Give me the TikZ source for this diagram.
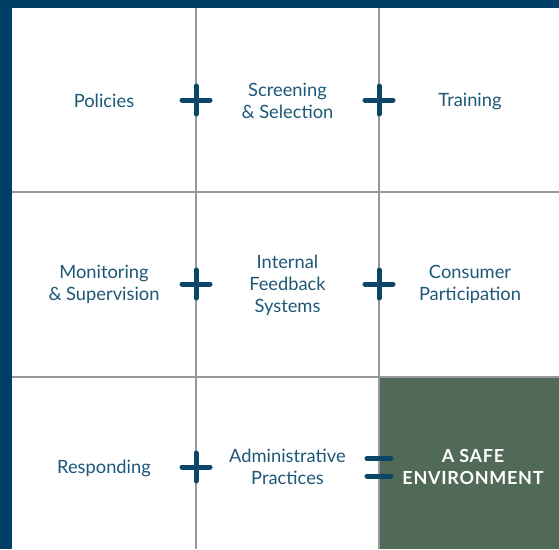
\documentclass[tikz,border=0pt]{standalone}
\usepackage{fontspec}
\setmainfont{Lato}
\definecolor{barblue}{HTML}{023F66}
\definecolor{plusblue}{HTML}{0B4768}
\definecolor{txtblue}{HTML}{1D5878}
\definecolor{gridgray}{HTML}{96999C}
\definecolor{safegreen}{HTML}{516957}
\tikzset{
  lbl/.style={align=center, text=txtblue, font=\fontsize{18.3}{22}\selectfont, inner sep=0pt},
  safelbl/.style={align=center, text=white, font=\bfseries\addfontfeatures{LetterSpace=4}\fontsize{18}{22}\selectfont, inner sep=0pt},
  gridline/.style={draw=gridgray, line width=2pt},
  plusbar/.style={draw=plusblue, line width=5pt, line cap=round},
  eqbar/.style={draw=plusblue, line width=5pt, line cap=round},
}
\begin{document}
\begin{tikzpicture}[x=1pt,y=-1pt]
\useasboundingbox (0,0) rectangle (559,549);
\fill[white] (0,0) rectangle (559,549);
% green cell
\fill[safegreen] (379,376) rectangle (559,549);
% grid
\draw[gridline] (12,191.5) -- (559,191.5);
\draw[gridline] (12,376.5) -- (559,376.5);
\draw[gridline] (196,8) -- (196,549);
\draw[gridline] (379,8) -- (379,549);
% border bars
\fill[barblue] (0,0) rectangle (559,8);
\fill[barblue] (0,0) rectangle (12,549);
% labels
\node[lbl] (policies) at (104,101) {Policies};
\node[lbl] (screening) at (287.5,100.5) {Screening\\\& Selection};
\node[lbl] (training) at (470,101) {Training};
\node[lbl] (monitoring) at (104,284.5) {Monitoring\\\& Supervision};
\node[lbl] (internal) at (287.5,285) {Internal\\Feedback\\Systems};
\node[lbl] (consumer) at (470,284.5) {Consumer\\Participation};
\node[lbl] (responding) at (104,468.5) {Responding};
\node[lbl] (admin) at (287.5,467) {Administrative\\Practices};
\node[safelbl] (safe) at (473,466.5) {A SAFE\\ENVIRONMENT};
% plus signs
\foreach \px/\py in {196/100, 379/100, 196/284, 379/284, 196/467}{
  \draw[plusbar] (\px-14,\py) -- (\px+14,\py);
  \draw[plusbar] (\px,\py-14) -- (\px,\py+14);
}
% equals sign
\draw[eqbar] (367,458.5) -- (391,458.5);
\draw[eqbar] (367,476) -- (391,476);
\end{tikzpicture}
\end{document}
